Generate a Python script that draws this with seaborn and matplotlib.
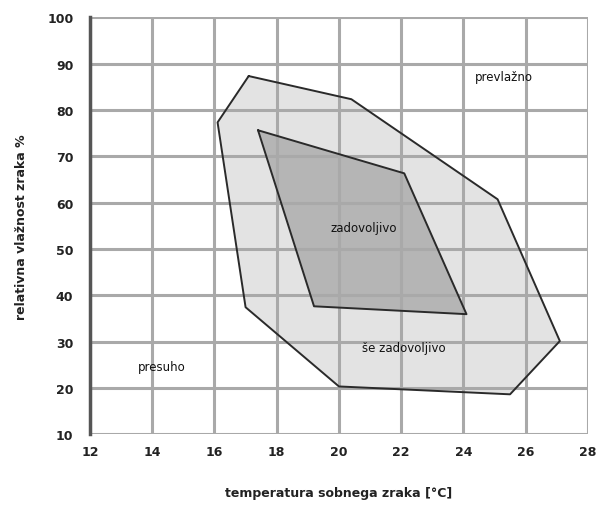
import numpy as np
import pandas as pd
import matplotlib
matplotlib.use("Agg")
import matplotlib.pyplot as plt
import seaborn as sns

# ---- data ----
outer_t = [17.1, 20.4, 25.1, 27.1, 25.5, 20.0, 17.0, 16.1]
outer_rh = [87.3, 82.3, 60.7, 30.1, 18.6, 20.3, 37.4, 77.3]
inner_t = [17.4, 22.1, 24.1, 19.2]
inner_rh = [75.6, 66.3, 35.9, 37.6]
x_ticks = [12, 14, 16, 18, 20, 22, 24, 26, 28]
y_ticks = [10, 20, 30, 40, 50, 60, 70, 80, 90, 100]
region_labels = ["prevlažno", "zadovoljivo", "še zadovoljivo", "presuho"]
label_t = [25.3, 20.8, 22.1, 14.3]
label_rh = [87.3, 54.7, 28.8, 24.5]

sns.set_theme(style="white")
plt.rcParams['font.family'] = ['DejaVu Sans']

fig = plt.figure(figsize=(5.98, 5.06), dpi=100)
ax = fig.add_axes([0.1505, 0.140, 0.8325, 0.824])

# fills
ax.fill(outer_t, outer_rh, color="#e3e3e3", zorder=1, lw=0)
ax.fill(inner_t, inner_rh, color="#b5b5b5", zorder=2, lw=0)

# grid lines above fills
for xv in x_ticks:
    ax.axvline(xv, color="#a9a9a9", lw=2.2, zorder=3)
for yv in y_ticks:
    ax.axhline(yv, color="#a9a9a9", lw=2.2, zorder=3)

# outlines via seaborn
df_o = pd.DataFrame({"t": outer_t + outer_t[:1], "rh": outer_rh + outer_rh[:1]})
df_i = pd.DataFrame({"t": inner_t + inner_t[:1], "rh": inner_rh + inner_rh[:1]})
sns.lineplot(data=df_o, x="t", y="rh", sort=False, estimator=None, color="#2a2a2a", lw=1.4, ax=ax, zorder=4)
sns.lineplot(data=df_i, x="t", y="rh", sort=False, estimator=None, color="#2a2a2a", lw=1.4, ax=ax, zorder=4)

for s, tx, ty in zip(region_labels, label_t, label_rh):
    ax.text(tx, ty, s, ha="center", va="center", fontsize=8.5, color="#111111", zorder=5)

ax.set_xlim(12, 28)
ax.set_ylim(10, 100)
ax.set_xticks(x_ticks)
ax.set_yticks(y_ticks)
ax.set_xticklabels([str(v) for v in x_ticks], fontsize=9, fontweight="bold", color="#222222")
ax.set_yticklabels([str(v) for v in y_ticks], fontsize=9, fontweight="bold", color="#222222")
ax.tick_params(axis="x", length=5, width=2, color="#a9a9a9", pad=3)
ax.tick_params(axis="y", length=0, pad=12)

for sp in ["top", "right", "bottom"]:
    ax.spines[sp].set_visible(False)
ax.spines["left"].set_color("#555555")
ax.spines["left"].set_linewidth(2.5)
ax.spines["left"].set_zorder(6)

ax.set_xlabel("temperatura sobnega zraka [°C]", fontsize=9, fontweight="bold", color="#222222", labelpad=20)
ax.set_ylabel("relativna vlažnost zraka %", fontsize=9, fontweight="bold", color="#222222", labelpad=14)

fig.savefig("out.png", dpi=100)
